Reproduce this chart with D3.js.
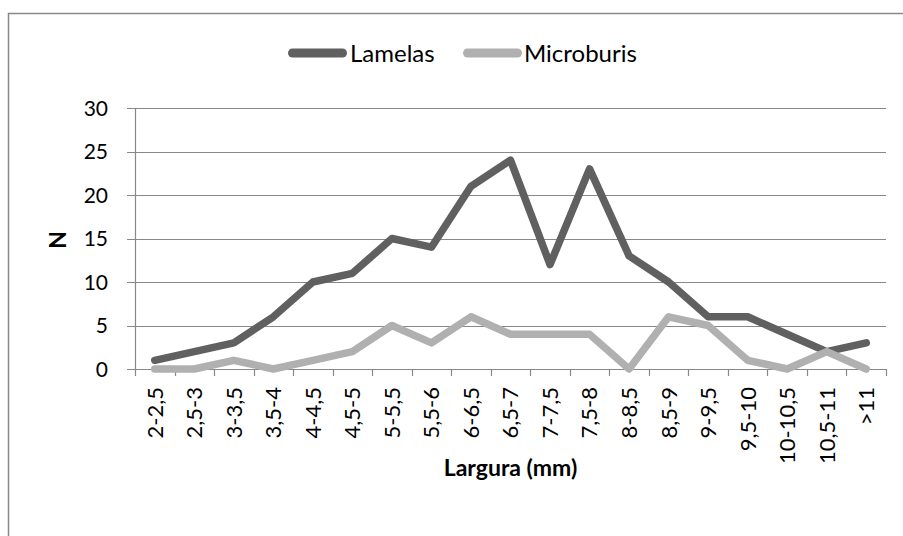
<!DOCTYPE html>
<html><head><meta charset="utf-8">
<script src="https://cdn.jsdelivr.net/npm/d3@7"></script>
<style>body{margin:0;background:#fff}svg{display:block;font-family:Lato,"Open Sans",sans-serif}</style>
</head><body>
<svg id="c" width="903" height="536"></svg>
<script>
const categories = ["2-2,5","2,5-3","3-3,5","3,5-4","4-4,5","4,5-5","5-5,5","5,5-6","6-6,5","6,5-7","7-7,5","7,5-8","8-8,5","8,5-9","9-9,5","9,5-10","10-10,5","10,5-11",">11"];
const lamelas = [1,2,3,6,10,11,15,14,21,24,12,23,13,10,6,6,4,2,3];
const microburis = [0,0,1,0,1,2,5,3,6,4,4,4,0,6,5,1,0,2,0];
const yTicks = [0,5,10,15,20,25,30];
const seriesNames = ["Lamelas","Microburis"];
const colors = ["#606060","#b0b0b0"];

const svg = d3.select("#c");
const L=135, R=886, T=108, B=369;
// outer border
svg.append("rect").attr("x",8.5).attr("y",13.5).attr("width",1000).attr("height",1000)
  .attr("fill","none").attr("stroke","#888").attr("stroke-width",1.5);

const x = d3.scaleBand().domain(categories).range([L,R]);
const y = d3.scaleLinear().domain([0,30]).range([B,T]);

// gridlines
svg.append("g").selectAll("line").data(yTicks).join("line")
  .attr("x1",L-8).attr("x2",R).attr("y1",d=>Math.round(y(d))+0.5).attr("y2",d=>Math.round(y(d))+0.5)
  .attr("stroke","#888").attr("stroke-width",1.2);
// y axis line
svg.append("line").attr("x1",L+0.5).attr("x2",L+0.5).attr("y1",T).attr("y2",B+1).attr("stroke","#888").attr("stroke-width",1.2);
// x ticks
const xt = categories.map(c=>x(c)).concat([R]);
svg.append("g").selectAll("line").data(xt).join("line")
  .attr("x1",d=>Math.round(d)+0.5).attr("x2",d=>Math.round(d)+0.5).attr("y1",B).attr("y2",B+7)
  .attr("stroke","#888").attr("stroke-width",1.2);
// y labels
svg.append("g").selectAll("text").data(yTicks).join("text")
  .attr("x",108).attr("y",d=>y(d)).attr("dy","0.36em").attr("text-anchor","end")
  .attr("font-size",21).attr("fill","#000").text(d=>d);
// x labels
svg.append("g").selectAll("text").data(categories).join("text")
  .attr("transform",d=>`translate(${x(d)+x.bandwidth()/2},387) rotate(-90)`)
  .attr("dy","0.36em").attr("text-anchor","end").attr("font-size",22).attr("fill","#000").text(d=>d);
// axis titles
svg.append("text").attr("transform","translate(58,240) rotate(-90)").attr("dy","0.36em")
  .attr("text-anchor","middle").attr("font-weight","bold").attr("font-size",23).text("N");
svg.append("text").attr("x",(L+R)/2).attr("y",468).attr("dy","0.36em")
  .attr("text-anchor","middle").attr("font-weight","bold").attr("font-size",23).text("Largura (mm)");

const line = d3.line().x((d,i)=>x(categories[i])+x.bandwidth()/2).y(d=>y(d));
[lamelas,microburis].forEach((s,i)=>{
  svg.append("path").datum(s).attr("d",line).attr("fill","none")
    .attr("stroke",colors[i]).attr("stroke-width",7.5).attr("stroke-linejoin","round").attr("stroke-linecap","round");
});

// legend
const lg = [{x:288,tx:350},{x:463,tx:524}];
seriesNames.forEach((n,i)=>{
  svg.append("line").attr("x1",lg[i].x+4.5).attr("x2",lg[i].x+54.5).attr("y1",53).attr("y2",53)
    .attr("stroke",colors[i]).attr("stroke-width",9).attr("stroke-linecap","round");
  svg.append("text").attr("x",lg[i].tx).attr("y",53).attr("dy","0.36em").attr("font-size",24).text(n);
});
</script>
</body></html>
